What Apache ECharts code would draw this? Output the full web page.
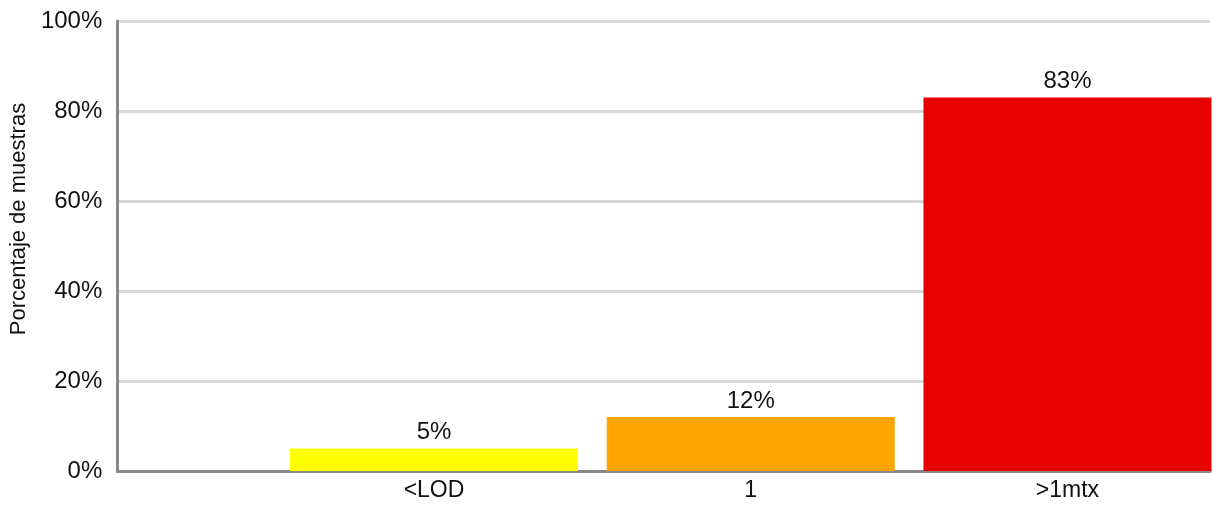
<!DOCTYPE html>
<html>
<head>
<meta charset="utf-8">
<script src="https://cdn.jsdelivr.net/npm/echarts@6/dist/echarts.min.js"></script>
<style>
  html, body { margin: 0; padding: 0; background: #fff; }
  #chart { width: 1213px; height: 522px; }
</style>
</head>
<body>
<div id="chart"></div>
<script>
// ── data ──
const categories = ['<LOD', '1', '>1mtx'];
const positions  = [1, 2, 3];          // category slots on the x scale
const values     = [5, 12, 83];        // % of samples
const barColors  = ['#ffff00', '#ffa500', '#e60000'];
const yTicks     = [0, 20, 40, 60, 80, 100];

const chart = echarts.init(document.getElementById('chart'));

chart.setOption({
  animation: false,
  textStyle: { fontFamily: '"Liberation Sans", Arial, sans-serif' },
  grid: { left: 113, right: 2, top: 21, bottom: 51 },
  xAxis: {
    type: 'value',
    min: 0, max: 3.45, interval: 1,
    axisLine: { show: true, lineStyle: { color: '#878787', width: 3 } },
    axisTick: { show: false },
    splitLine: { show: false },
    axisLabel: {
      color: '#111', fontSize: 23, margin: 8,
      formatter: v => {
        const i = positions.indexOf(v);
        return i >= 0 ? categories[i] : '';
      }
    }
  },
  yAxis: {
    type: 'value',
    min: yTicks[0], max: yTicks[yTicks.length - 1], interval: 20,
    name: 'Porcentaje de muestras',
    nameLocation: 'middle',
    nameGap: 75,
    nameTextStyle: { color: '#111', fontSize: 22, padding: [0, 0, 0, 54] },
    axisLine: { show: true, lineStyle: { color: '#878787', width: 3 } },
    axisTick: { show: false },
    axisLabel: { color: '#111', fontSize: 24, margin: 15, formatter: '{value}%' },
    splitLine: { lineStyle: { color: '#d9d9d9', width: 3 } }
  },
  series: [{
    type: 'bar',
    barWidth: 288,
    data: values.map((v, i) => ({
      value: [positions[i], v],
      itemStyle: { color: barColors[i] }
    })),
    label: {
      show: true, position: 'top', distance: 4,
      color: '#111', fontSize: 24,
      formatter: p => p.value[1] + '%'
    }
  }]
});
</script>
</body>
</html>
